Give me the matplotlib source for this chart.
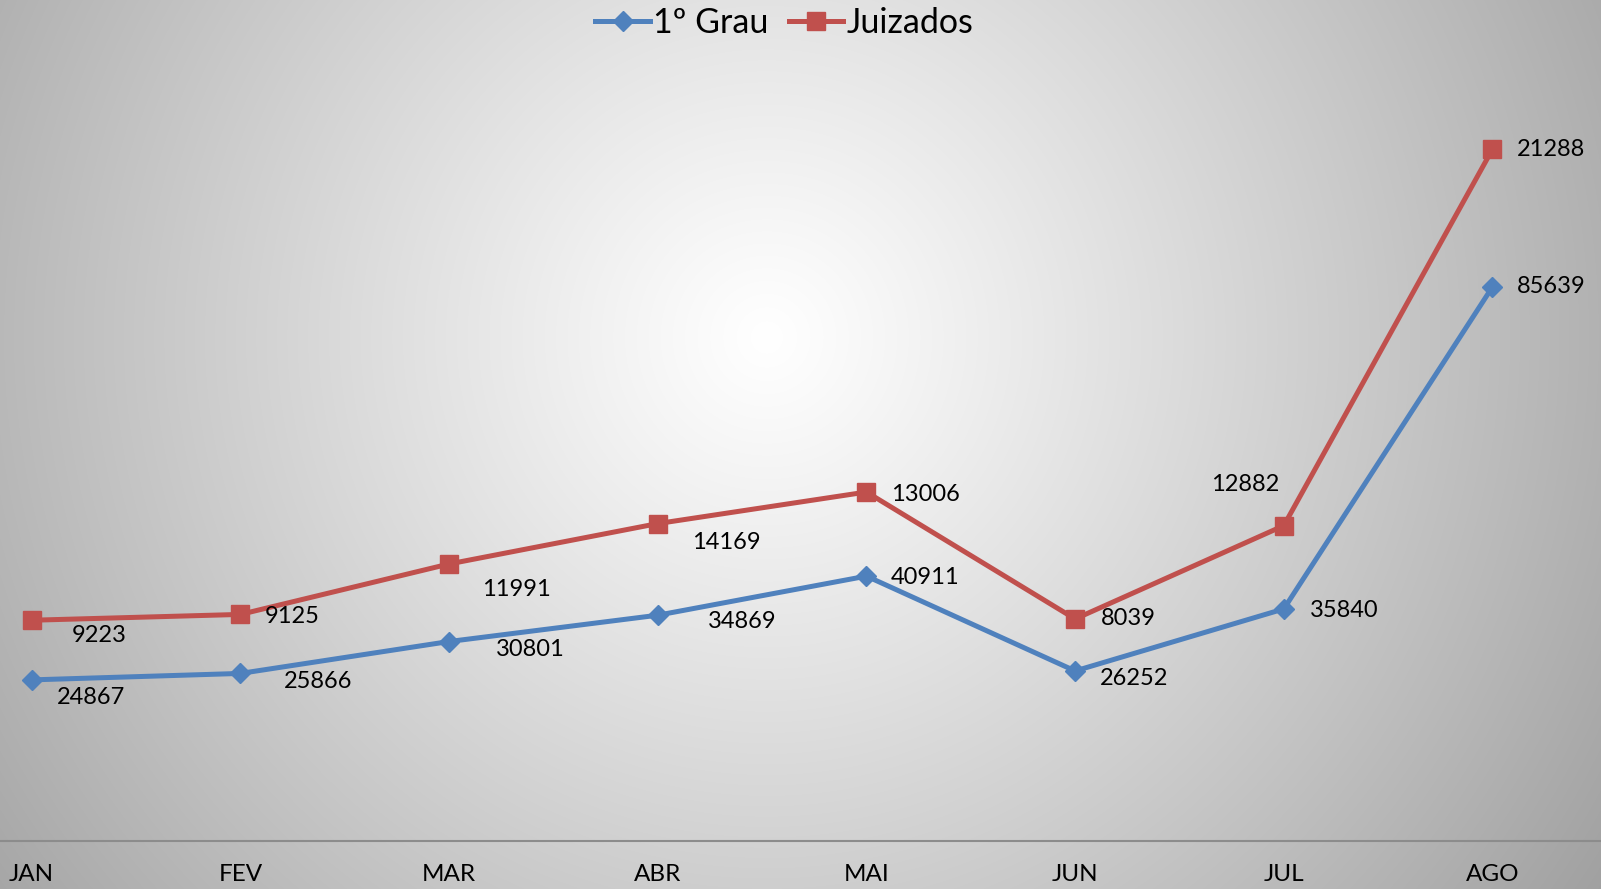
import matplotlib
matplotlib.use("Agg")
import matplotlib.pyplot as plt
import numpy as np
from matplotlib.lines import Line2D

# data
months = ["JAN", "FEV", "MAR", "ABR", "MAI", "JUN", "JUL", "AGO"]
grau1 = [24867, 25866, 30801, 34869, 40911, 26252, 35840, 85639]
juizados = [9223, 9125, 11991, 14169, 13006, 8039, 12882, 21288]

# label offsets in pixels (dx right, dy down)
off_grau = [(59, 18), (78, 8), (81, 8), (84, 6), (59, 1), (59, 8), (60, 2), (59, 0)]
off_juiz = [(67, 15), (52, 2), (67, 26), (69, 19), (59, 2), (53, 0), (-39, -41), (59, 0)]

BLUE = "#4F81BD"
RED = "#C0504D"
plt.rcParams['font.family'] = ['Lato', 'DejaVu Sans']

W, H = 1601, 889
fig = plt.figure(figsize=(W / 100, H / 100), dpi=100)

# radial gradient background
bg = fig.add_axes([0, 0, 1, 1], zorder=0)
yy, xx = np.mgrid[0:H, 0:W]
d = np.hypot(xx - 766, yy - 337) / 1000.0
v = np.clip(1.0 - 0.37 * d ** 1.1, 0, 1)
bg.imshow(np.dstack([v, v, v]), extent=[0, 1, 0, 1], aspect='auto', origin='upper')
bg.set_axis_off()

ax = fig.add_axes([0, 48.3 / H, 1, 1 - 48.3 / H], zorder=1)
ax.patch.set_alpha(0)
x = np.arange(len(months))
stack = np.array(grau1) + np.array(juizados)

ax.plot(x, grau1, color=BLUE, lw=3.6, marker='D', ms=10, solid_joinstyle='round', zorder=3)
ax.plot(x, stack, color=RED, lw=3.6, marker='s', ms=13, solid_joinstyle='round', zorder=3)

for i in range(len(months)):
    ax.annotate(str(grau1[i]), (x[i], grau1[i]), xytext=(off_grau[i][0], -off_grau[i][1]),
                textcoords='offset pixels', ha='center', va='center', fontsize=17, color='black')
    ax.annotate(str(juizados[i]), (x[i], stack[i]), xytext=(off_juiz[i][0], -off_juiz[i][1]),
                textcoords='offset pixels', ha='center', va='center', fontsize=17, color='black')

ax.set_xlim(-0.152, 7.52)
ax.set_ylim(0, 130000)
ax.set_xticks(x)
ax.set_xticklabels(months, fontsize=17.5)
ax.tick_params(axis='x', length=0, pad=17)
ax.set_yticks([])
for s in ['top', 'right', 'left']:
    ax.spines[s].set_visible(False)
ax.spines['bottom'].set_color('#8c8c8c')
ax.spines['bottom'].set_linewidth(1.5)

handles = [Line2D([], [], color=BLUE, lw=3.6, marker='D', ms=10),
           Line2D([], [], color=RED, lw=3.6, marker='s', ms=13)]
fig.legend(handles, ["1º Grau", "Juizados"], loc='center', bbox_to_anchor=(0.49, 1 - 23 / H),
           ncol=2, frameon=False, fontsize=24.5, handlelength=1.6, handletextpad=0.1,
           columnspacing=0.6)

fig.savefig("out.png", dpi=100)
